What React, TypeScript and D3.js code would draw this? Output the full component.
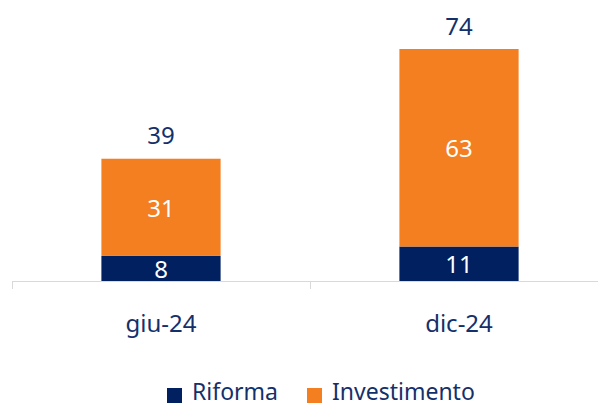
import React from "react";
import * as d3 from "d3";

const categories = ["giu-24", "dic-24"];
const riforma = [8, 11];
const investimento = [31, 63];
const seriesNames = ["Riforma", "Investimento"];
const colors = ["#002060", "#F47F20"];

const W = 598;
const H = 405;
const textColor = "#14306B";
const font = "'Noto Sans', 'Liberation Sans', sans-serif";

export default function App() {
  const x = d3.scaleBand<string>().domain(categories).range([12, 608]).paddingInner(0).paddingOuter(0);
  const y = d3.scaleLinear().domain([0, 74]).range([281, 49]);
  const barW = x.bandwidth() * 0.4;

  const rows = categories.map((c, i) => ({ cat: c, Riforma: riforma[i], Investimento: investimento[i] }));
  const stack = d3.stack<any>().keys(seriesNames)(rows);

  return (
    <svg width={W} height={H} style={{ position: "absolute", left: 0, top: 0, fontFamily: font }}>
      <rect width={W} height={H} fill="#fff" />
      {stack.map((s, si) =>
        s.map((d, i) => {
          const cx = (x(categories[i]) as number) + x.bandwidth() / 2;
          const y0 = y(d[0]);
          const y1 = y(d[1]);
          return (
            <g key={`${si}-${i}`}>
              <rect x={cx - barW / 2} y={y1} width={barW} height={y0 - y1} fill={colors[si]} />
              <text x={cx} y={(y0 + y1) / 2} textAnchor="middle" dominantBaseline="central" fill="#fff" fontSize={24}>
                {d[1] - d[0]}
              </text>
            </g>
          );
        })
      )}
      {categories.map((c, i) => {
        const cx = (x(c) as number) + x.bandwidth() / 2;
        const total = riforma[i] + investimento[i];
        return (
          <g key={c}>
            <text x={cx} y={y(total) - 24} textAnchor="middle" dominantBaseline="central" fill={textColor} fontSize={24}>
              {total}
            </text>
            <text x={cx} y={322} textAnchor="middle" dominantBaseline="central" fill={textColor} fontSize={24}>
              {c}
            </text>
          </g>
        );
      })}
      <line x1={12} x2={608} y1={281.5} y2={281.5} stroke="#D9D9D9" strokeWidth={1} />
      {[...categories.map((c) => x(c) as number), 608].map((t, i) => (
        <line key={i} x1={t + 0.5} x2={t + 0.5} y1={281} y2={289} stroke="#D9D9D9" strokeWidth={1} />
      ))}
      {seriesNames.map((n, i) => {
        const lx = [167, 307][i];
        return (
          <g key={n}>
            <rect x={lx} y={388} width={15} height={15} fill={colors[i]} />
            <text x={lx + 25} y={400} fill={textColor} fontSize={23}>
              {n}
            </text>
          </g>
        );
      })}
    </svg>
  );
}
